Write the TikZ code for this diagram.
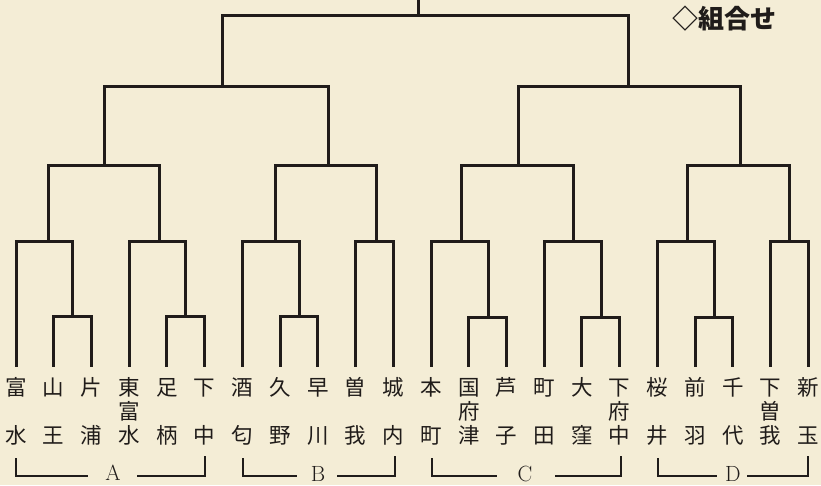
\documentclass[tikz,border=0pt]{standalone}
\usepackage{fontspec}
\newfontfamily\cjk{Noto Sans CJK JP}
\definecolor{paper}{RGB}{244,237,214}
\definecolor{ink}{RGB}{32,28,26}
\newcommand\tmrow[1]{\hbox to 26pt{\hss\rule[-5pt]{0pt}{24pt}#1\hss}}
\newcommand\tmstack[3]{\vbox{\offinterlineskip\tmrow{#1}\tmrow{#2}\tmrow{#3}}}
\tikzset{
  br/.style={line width=3pt, draw=ink},
  grp/.style={line width=2.5pt, draw=ink},
  team/.style={inner sep=0pt, font=\cjk\fontsize{21.5}{24}\selectfont, text=ink},
  glab/.style={inner sep=0pt, font=\fontsize{22}{22}\selectfont, text=ink, anchor=base},
  ttl/.style={inner sep=0pt, font=\cjk\bfseries\fontsize{26}{26}\selectfont, text=ink}
}
\begin{document}
\begin{tikzpicture}[x=1pt,y=-1pt]
\fill[paper] (0,0) rectangle (821,485);
\useasboundingbox (0,0) rectangle (821,485);
\clip (0,0) rectangle (821,485);

% teams
\foreach \i/\a/\b/\c in {0/富//水,1/山//王,2/片//浦,3/東/富/水,4/足//柄,5/下//中,
  6/酒//匂,7/久//野,8/早//川,9/曽//我,10/城//内,11/本//町,12/国/府/津,13/芦//子,
  14/町//田,15/大//窪,16/下/府/中,17/桜//井,18/前//羽,19/千//代,20/下/曽/我,21/新//玉}{
  \node[team] (n\i) at ({16+37.73*\i},412) {\tmstack{\a}{\b}{\c}};
  \coordinate (t\i) at ([yshift=9pt]n\i.north);
}

% junctions
\coordinate (a1) at (72.6,316);
\coordinate (a2) at (48,241);
\coordinate (a3) at (185.8,316);
\coordinate (a4) at (159,241);
\coordinate (a5) at (104,165);
\coordinate (b1) at (299,316);
\coordinate (b2) at (275,241);
\coordinate (b3) at (376,241);
\coordinate (b4) at (328,165);
\coordinate (l1) at (222,86);
\coordinate (c1) at (488,317);
\coordinate (c2) at (461,241);
\coordinate (c3) at (601,317);
\coordinate (c4) at (573,241);
\coordinate (c5) at (518,165);
\coordinate (d1) at (714,317);
\coordinate (d2) at (687,241);
\coordinate (d3) at (789,241);
\coordinate (d4) at (740,165);
\coordinate (r1) at (628,86);
\coordinate (top) at (418,15);
\coordinate (topend) at (418,-5);

% bracket tree
\draw[br] (t1) |- (a1) -| (t2);
\draw[br] (t0) |- (a2) -| (a1);
\draw[br] (t4) |- (a3) -| (t5);
\draw[br] (t3) |- (a4) -| (a3);
\draw[br] (a2) |- (a5) -| (a4);
\draw[br] (t7) |- (b1) -| (t8);
\draw[br] (t6) |- (b2) -| (b1);
\draw[br] (t9) |- (b3) -| (t10);
\draw[br] (b2) |- (b4) -| (b3);
\draw[br] (a5) |- (l1) -| (b4);
\draw[br] (t12) |- (c1) -| (t13);
\draw[br] (t11) |- (c2) -| (c1);
\draw[br] (t15) |- (c3) -| (t16);
\draw[br] (t14) |- (c4) -| (c3);
\draw[br] (c2) |- (c5) -| (c4);
\draw[br] (t18) |- (d1) -| (t19);
\draw[br] (t17) |- (d2) -| (d1);
\draw[br] (t20) |- (d3) -| (t21);
\draw[br] (d2) |- (d4) -| (d3);
\draw[br] (c5) |- (r1) -| (d4);
\draw[br] (l1) |- (top) -| (r1);
\draw[br] (top) -- (topend);

% title
\node[ttl] (title) at (724,19) {◇組合せ};

% group labels
\node[glab] (gA) at (113,480) {A};
\node[glab] (gB) at (318,481) {B};
\node[glab] (gC) at (525,481) {C};
\node[glab] (gD) at (733,481) {D};

\coordinate (ga1) at (16,458);  \coordinate (ga2) at (88,476);
\coordinate (ga4) at (205,456); \coordinate (ga3) at (137,476);
\coordinate (gb1) at (243,458); \coordinate (gb2) at (297,476);
\coordinate (gb4) at (395,456); \coordinate (gb3) at (337,476);
\coordinate (gc1) at (432,458); \coordinate (gc2) at (497,476);
\coordinate (gc4) at (621,456); \coordinate (gc3) at (555,476);
\coordinate (gd1) at (658,458); \coordinate (gd2) at (717,476);
\coordinate (gd4) at (808,456); \coordinate (gd3) at (747,476);
\foreach \g in {a,b,c,d}{
  \draw[grp] (g\g1) |- (g\g2);
  \draw[grp] (g\g4) |- (g\g3);
}
\end{tikzpicture}
\end{document}
